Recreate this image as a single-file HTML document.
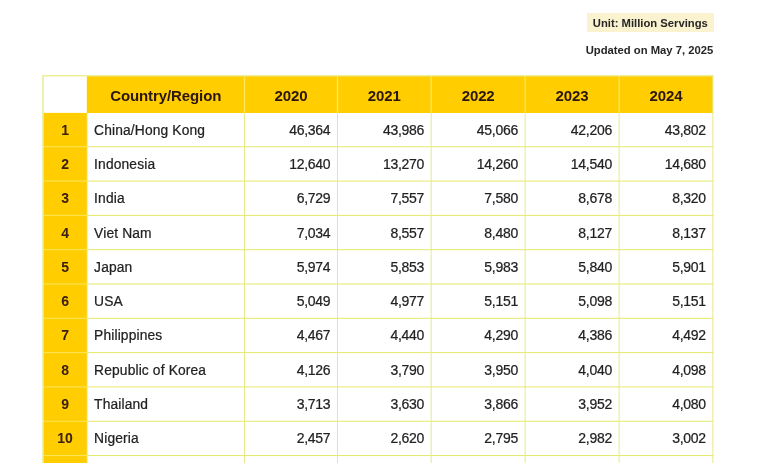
<!DOCTYPE html>
<html>
<head>
<meta charset="utf-8">
<style>
html,body{margin:0;padding:0;background:#fff;}
body{will-change:transform;width:768px;height:463px;overflow:hidden;position:relative;font-family:"Liberation Sans",sans-serif;color:#222;}
div{position:absolute;white-space:nowrap;}
.unit{left:587px;top:13px;width:126.7px;height:19.4px;background:#fbf3d0;}
.ut{left:587px;top:13px;width:126.7px;height:19.4px;line-height:20.4px;font-weight:bold;font-size:11.25px;text-align:center;color:#262626;}
.upd{left:500px;width:213.2px;top:40.2px;text-align:right;font-weight:bold;font-size:11.25px;line-height:20px;color:#262626;}
.h{top:76.3px;height:36.7px;line-height:39.2px;font-size:15px;font-weight:bold;text-align:center;color:#2a160c;letter-spacing:-0.1px;}
.r{left:43.5px;width:43.2px;text-align:center;font-size:14px;font-weight:bold;color:#3c200e;line-height:34.8px !important;}
.c{left:94.1px;font-size:13.8px;letter-spacing:0.14px;color:#222;-webkit-text-stroke:0.22px #222;line-height:35.7px !important;}
.n{text-align:right;font-size:14px;letter-spacing:-0.3px;color:#222;-webkit-text-stroke:0.22px #222;}
.r,.c,.n{height:34.28px;line-height:34.6px;}
</style>
</head>
<body>
<svg width="768" height="463" viewBox="0 0 768 463" style="position:absolute;left:0;top:0">
<rect x="86.80" y="76.20" width="626.10" height="36.80" fill="#ffcd00"/>
<rect x="43.40" y="112.9" width="43.50" height="352.10" fill="#ffcd00"/>
<line x1="42.5" x2="713.4" y1="75.8" y2="75.8" stroke="#e4e868" stroke-width="1"/>
<line x1="87.0" x2="713.4" y1="146.76" y2="146.76" stroke="#e4e868" stroke-width="1"/>
<line x1="43.0" x2="87.0" y1="146.76" y2="146.76" stroke="#ffe75c" stroke-width="1"/>
<line x1="87.0" x2="713.4" y1="181.07" y2="181.07" stroke="#e4e868" stroke-width="1"/>
<line x1="43.0" x2="87.0" y1="181.07" y2="181.07" stroke="#ffe75c" stroke-width="1"/>
<line x1="87.0" x2="713.4" y1="215.38" y2="215.38" stroke="#e4e868" stroke-width="1"/>
<line x1="43.0" x2="87.0" y1="215.38" y2="215.38" stroke="#ffe75c" stroke-width="1"/>
<line x1="87.0" x2="713.4" y1="249.69" y2="249.69" stroke="#e4e868" stroke-width="1"/>
<line x1="43.0" x2="87.0" y1="249.69" y2="249.69" stroke="#ffe75c" stroke-width="1"/>
<line x1="87.0" x2="713.4" y1="284.00" y2="284.00" stroke="#e4e868" stroke-width="1"/>
<line x1="43.0" x2="87.0" y1="284.00" y2="284.00" stroke="#ffe75c" stroke-width="1"/>
<line x1="87.0" x2="713.4" y1="318.31" y2="318.31" stroke="#e4e868" stroke-width="1"/>
<line x1="43.0" x2="87.0" y1="318.31" y2="318.31" stroke="#ffe75c" stroke-width="1"/>
<line x1="87.0" x2="713.4" y1="352.62" y2="352.62" stroke="#e4e868" stroke-width="1"/>
<line x1="43.0" x2="87.0" y1="352.62" y2="352.62" stroke="#ffe75c" stroke-width="1"/>
<line x1="87.0" x2="713.4" y1="386.93" y2="386.93" stroke="#e4e868" stroke-width="1"/>
<line x1="43.0" x2="87.0" y1="386.93" y2="386.93" stroke="#ffe75c" stroke-width="1"/>
<line x1="87.0" x2="713.4" y1="421.24" y2="421.24" stroke="#e4e868" stroke-width="1"/>
<line x1="43.0" x2="87.0" y1="421.24" y2="421.24" stroke="#ffe75c" stroke-width="1"/>
<line x1="87.0" x2="713.4" y1="455.55" y2="455.55" stroke="#e4e868" stroke-width="1"/>
<line x1="43.0" x2="87.0" y1="455.55" y2="455.55" stroke="#ffe75c" stroke-width="1"/>
<line x1="43.0" x2="43.0" y1="75.3" y2="465" stroke="#e6ea88" stroke-width="1.3"/>
<line x1="87.3" x2="87.3" y1="113" y2="465" stroke="#e6ea88" stroke-width="1" opacity="0.7"/>
<line x1="244.5" x2="244.5" y1="76.2" y2="113" stroke="#ffe75c" stroke-width="1.3"/>
<line x1="244.5" x2="244.5" y1="113" y2="465" stroke="#e6ea88" stroke-width="1"/>
<line x1="337.5" x2="337.5" y1="76.2" y2="113" stroke="#ffe75c" stroke-width="1.3"/>
<line x1="337.5" x2="337.5" y1="113" y2="465" stroke="#e6ea88" stroke-width="1"/>
<line x1="431.2" x2="431.2" y1="76.2" y2="113" stroke="#ffe75c" stroke-width="1.3"/>
<line x1="431.2" x2="431.2" y1="113" y2="465" stroke="#e6ea88" stroke-width="1"/>
<line x1="525.1" x2="525.1" y1="76.2" y2="113" stroke="#ffe75c" stroke-width="1.3"/>
<line x1="525.1" x2="525.1" y1="113" y2="465" stroke="#e6ea88" stroke-width="1"/>
<line x1="619.1" x2="619.1" y1="76.2" y2="113" stroke="#ffe75c" stroke-width="1.3"/>
<line x1="619.1" x2="619.1" y1="113" y2="465" stroke="#e6ea88" stroke-width="1"/>
<line x1="712.8" x2="712.8" y1="75.3" y2="465" stroke="#e6ea88" stroke-width="1.2" opacity="0.8"/>
</svg>
<div class="unit"></div><div class="ut">Unit: Million Servings</div>
<div class="upd">Updated on May 7, 2025</div>
<div class="h" style="left:87.0px;width:157.5px">Country/Region</div>
<div class="h" style="left:244.5px;width:93.0px">2020</div>
<div class="h" style="left:337.5px;width:93.7px">2021</div>
<div class="h" style="left:431.2px;width:93.9px">2022</div>
<div class="h" style="left:525.1px;width:94.0px">2023</div>
<div class="h" style="left:619.1px;width:93.8px">2024</div>
<div class="r" style="top:112.75px">1</div>
<div class="c" style="top:112.75px">China/Hong Kong</div>
<div class="n" style="top:112.75px;left:244.5px;width:85.8px">46,364</div>
<div class="n" style="top:112.75px;left:337.5px;width:86.5px">43,986</div>
<div class="n" style="top:112.75px;left:431.2px;width:86.7px">45,066</div>
<div class="n" style="top:112.75px;left:525.1px;width:86.8px">42,206</div>
<div class="n" style="top:112.75px;left:619.1px;width:86.6px">43,802</div>
<div class="r" style="top:147.03px">2</div>
<div class="c" style="top:147.03px">Indonesia</div>
<div class="n" style="top:147.03px;left:244.5px;width:85.8px">12,640</div>
<div class="n" style="top:147.03px;left:337.5px;width:86.5px">13,270</div>
<div class="n" style="top:147.03px;left:431.2px;width:86.7px">14,260</div>
<div class="n" style="top:147.03px;left:525.1px;width:86.8px">14,540</div>
<div class="n" style="top:147.03px;left:619.1px;width:86.6px">14,680</div>
<div class="r" style="top:181.31px">3</div>
<div class="c" style="top:181.31px">India</div>
<div class="n" style="top:181.31px;left:244.5px;width:85.8px">6,729</div>
<div class="n" style="top:181.31px;left:337.5px;width:86.5px">7,557</div>
<div class="n" style="top:181.31px;left:431.2px;width:86.7px">7,580</div>
<div class="n" style="top:181.31px;left:525.1px;width:86.8px">8,678</div>
<div class="n" style="top:181.31px;left:619.1px;width:86.6px">8,320</div>
<div class="r" style="top:215.59px">4</div>
<div class="c" style="top:215.59px">Viet Nam</div>
<div class="n" style="top:215.59px;left:244.5px;width:85.8px">7,034</div>
<div class="n" style="top:215.59px;left:337.5px;width:86.5px">8,557</div>
<div class="n" style="top:215.59px;left:431.2px;width:86.7px">8,480</div>
<div class="n" style="top:215.59px;left:525.1px;width:86.8px">8,127</div>
<div class="n" style="top:215.59px;left:619.1px;width:86.6px">8,137</div>
<div class="r" style="top:249.87px">5</div>
<div class="c" style="top:249.87px">Japan</div>
<div class="n" style="top:249.87px;left:244.5px;width:85.8px">5,974</div>
<div class="n" style="top:249.87px;left:337.5px;width:86.5px">5,853</div>
<div class="n" style="top:249.87px;left:431.2px;width:86.7px">5,983</div>
<div class="n" style="top:249.87px;left:525.1px;width:86.8px">5,840</div>
<div class="n" style="top:249.87px;left:619.1px;width:86.6px">5,901</div>
<div class="r" style="top:284.15px">6</div>
<div class="c" style="top:284.15px">USA</div>
<div class="n" style="top:284.15px;left:244.5px;width:85.8px">5,049</div>
<div class="n" style="top:284.15px;left:337.5px;width:86.5px">4,977</div>
<div class="n" style="top:284.15px;left:431.2px;width:86.7px">5,151</div>
<div class="n" style="top:284.15px;left:525.1px;width:86.8px">5,098</div>
<div class="n" style="top:284.15px;left:619.1px;width:86.6px">5,151</div>
<div class="r" style="top:318.43px">7</div>
<div class="c" style="top:318.43px">Philippines</div>
<div class="n" style="top:318.43px;left:244.5px;width:85.8px">4,467</div>
<div class="n" style="top:318.43px;left:337.5px;width:86.5px">4,440</div>
<div class="n" style="top:318.43px;left:431.2px;width:86.7px">4,290</div>
<div class="n" style="top:318.43px;left:525.1px;width:86.8px">4,386</div>
<div class="n" style="top:318.43px;left:619.1px;width:86.6px">4,492</div>
<div class="r" style="top:352.71px">8</div>
<div class="c" style="top:352.71px">Republic of Korea</div>
<div class="n" style="top:352.71px;left:244.5px;width:85.8px">4,126</div>
<div class="n" style="top:352.71px;left:337.5px;width:86.5px">3,790</div>
<div class="n" style="top:352.71px;left:431.2px;width:86.7px">3,950</div>
<div class="n" style="top:352.71px;left:525.1px;width:86.8px">4,040</div>
<div class="n" style="top:352.71px;left:619.1px;width:86.6px">4,098</div>
<div class="r" style="top:386.99px">9</div>
<div class="c" style="top:386.99px">Thailand</div>
<div class="n" style="top:386.99px;left:244.5px;width:85.8px">3,713</div>
<div class="n" style="top:386.99px;left:337.5px;width:86.5px">3,630</div>
<div class="n" style="top:386.99px;left:431.2px;width:86.7px">3,866</div>
<div class="n" style="top:386.99px;left:525.1px;width:86.8px">3,952</div>
<div class="n" style="top:386.99px;left:619.1px;width:86.6px">4,080</div>
<div class="r" style="top:421.27px">10</div>
<div class="c" style="top:421.27px">Nigeria</div>
<div class="n" style="top:421.27px;left:244.5px;width:85.8px">2,457</div>
<div class="n" style="top:421.27px;left:337.5px;width:86.5px">2,620</div>
<div class="n" style="top:421.27px;left:431.2px;width:86.7px">2,795</div>
<div class="n" style="top:421.27px;left:525.1px;width:86.8px">2,982</div>
<div class="n" style="top:421.27px;left:619.1px;width:86.6px">3,002</div>
</body>
</html>
